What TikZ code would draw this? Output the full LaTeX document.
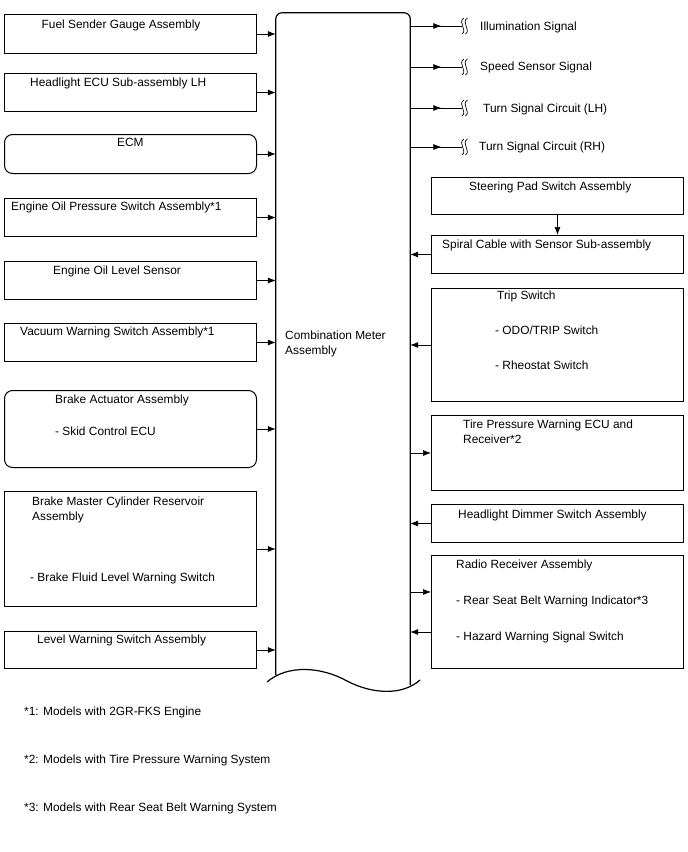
\documentclass[tikz,border=0pt]{standalone}
\usepackage{fontspec}
\setmainfont{Liberation Sans}
\usetikzlibrary{arrows.meta,decorations.markings}

\begin{document}
\begin{tikzpicture}[
  x=1pt, y=-1pt,
  font=\fontsize{11.9}{15}\selectfont,
  >={Latex[length=8pt,width=6pt]},
  box/.style={draw, line width=1pt, anchor=north west, inner sep=0,
    minimum width=252},
  rbox/.style={box, rounded corners=8pt},
  txt/.style={anchor=north west, inner sep=0, align=left},
  arr/.style={->, line width=0.7pt},
  midarr/.style={line width=0.7pt, postaction={decorate},
    decoration={markings,
      mark=at position 0.6 with {\arrow{Latex[length=8pt,width=6pt]}}}},
  outline/.style={line width=1.2pt},
  brk/.pic={
    \draw[line width=0.7pt] (2,-8) .. controls (-5,-4) and (6,4) .. (0,8);
    \draw[line width=0.7pt] (5.5,-8) .. controls (-1.5,-4) and (9.5,4) .. (3.5,8);}
]
\useasboundingbox (0,0) rectangle (688,852);

% ---- Combination meter (centre) ----
\node[minimum width=134, minimum height=667, inner sep=0] (meter) at (343,346.5) {};
\draw[outline, rounded corners=6pt] ([yshift=5]meter.south west) -- (meter.north west)
  -- (meter.north east) -- ([yshift=-5]meter.south east);
\draw[outline] (267,682) .. controls (288,664) and (322,667) .. (347,681)
  .. controls (372,694) and (402,696) .. (420,680);
\node[txt] (metertext) at (285,331) {Combination Meter\\Assembly};

% ---- Inputs (left) ----
\node[box, minimum height=39] (fuel) at (4,14) {};
\node[txt] at (41.5,20) {Fuel Sender Gauge Assembly};
\node[box, minimum height=38] (hlecu) at (4,73) {};
\node[txt] at (30,78) {Headlight ECU Sub-assembly LH};
\node[rbox, minimum height=39] (ecm) at (4,134) {};
\node[txt] at (117,138) {ECM};
\node[box, minimum height=38] (oilpres) at (4,198) {};
\node[txt] at (11,202) {Engine Oil Pressure Switch Assembly*1};
\node[box, minimum height=38] (oillvl) at (4,261) {};
\node[txt] at (53,266) {Engine Oil Level Sensor};
\node[box, minimum height=38] (vacuum) at (4,323) {};
\node[txt] at (20,327) {Vacuum Warning Switch Assembly*1};
\node[rbox, minimum height=77] (brkact) at (4,390) {};
\node[txt] at (55,395) {Brake Actuator Assembly};
\node[txt] at (55,427) {- Skid Control ECU};
\node[box, minimum height=115] (brkmst) at (4,491) {};
\node[txt] at (32,497) {Brake Master Cylinder Reservoir\\Assembly};
\node[txt] at (30,573) {- Brake Fluid Level Warning Switch};
\node[box, minimum height=37] (lvlwarn) at (4,631) {};
\node[txt] at (37,635) {Level Warning Switch Assembly};

% ---- Outputs (top right) ----
\coordinate (illum) at (462,26);
\node[txt] at (480,21.5) {Illumination Signal};
\coordinate (speed) at (462,67);
\node[txt] at (480,61.5) {Speed Sensor Signal};
\coordinate (turnlh) at (462,108);
\node[txt] at (483,103.5) {Turn Signal Circuit (LH)};
\coordinate (turnrh) at (462,147);
\node[txt] at (479,142) {Turn Signal Circuit (RH)};

% ---- Switches / receivers (right) ----
\node[box, minimum height=37] (steer) at (431,177) {};
\node[txt] at (469,182) {Steering Pad Switch Assembly};
\node[box, minimum height=38] (spiral) at (431,235) {};
\node[txt] at (442,240) {Spiral Cable with Sensor Sub-assembly};
\node[box, minimum height=113] (trip) at (431,288) {};
\node[txt] at (497,291) {Trip Switch};
\node[txt] at (495,326) {- ODO/TRIP Switch};
\node[txt] at (495,361) {- Rheostat Switch};
\node[box, minimum height=75] (tpms) at (431,415) {};
\node[txt] at (463,420) {Tire Pressure Warning ECU and\\Receiver*2};
\node[box, minimum height=38] (dimmer) at (431,504) {};
\node[txt] at (458,510) {Headlight Dimmer Switch Assembly};
\node[box, minimum height=113] (radio) at (431,555) {};
\node[txt] at (456,560) {Radio Receiver Assembly};
\node[txt] at (456,596) {- Rear Seat Belt Warning Indicator*3};
\node[txt] at (456,632) {- Hazard Warning Signal Switch};

% ---- Notes ----
\node[txt] (note1) at (24,707) {*1: Models with 2GR-FKS Engine};
\node[txt] (note2) at (24,755) {*2: Models with Tire Pressure Warning System};
\node[txt] (note3) at (24,803) {*3: Models with Rear Seat Belt Warning System};

% ---- Arrows: left ----
\draw[arr] (fuel) -- (fuel -| meter.west);
\draw[arr] (hlecu) -- (hlecu -| meter.west);
\draw[arr] (ecm) -- (ecm -| meter.west);
\draw[arr] (oilpres) -- (oilpres -| meter.west);
\draw[arr] (oillvl) -- (oillvl -| meter.west);
\draw[arr] (vacuum) -- (vacuum -| meter.west);
\draw[arr] (brkact) -- (brkact -| meter.west);
\draw[arr] (brkmst) -- (brkmst -| meter.west);
\draw[arr] (lvlwarn) -- (lvlwarn -| meter.west);

% ---- Arrows: outputs ----
\draw[midarr] (meter.east |- illum) -- (illum);
\pic at (illum) {brk};
\draw[midarr] (meter.east |- speed) -- (speed);
\pic at (speed) {brk};
\draw[midarr] (meter.east |- turnlh) -- (turnlh);
\pic at (turnlh) {brk};
\draw[midarr] (meter.east |- turnrh) -- (turnrh);
\pic at (turnrh) {brk};

% ---- Arrows: right ----
\draw[arr] (steer) -- (spiral);
\draw[arr] (spiral) -- (spiral -| meter.east);
\draw[arr] (trip) -- (trip -| meter.east);
\draw[arr] (tpms -| meter.east) -- (tpms.west);
\draw[arr] (dimmer) -- (dimmer -| meter.east);
\draw[arr] ([yshift=20]radio.west -| meter.east) -- ([yshift=20]radio.west);
\draw[arr] ([yshift=-20]radio.west) -- ([yshift=-20]radio.west -| meter.east);

\end{tikzpicture}
\end{document}
